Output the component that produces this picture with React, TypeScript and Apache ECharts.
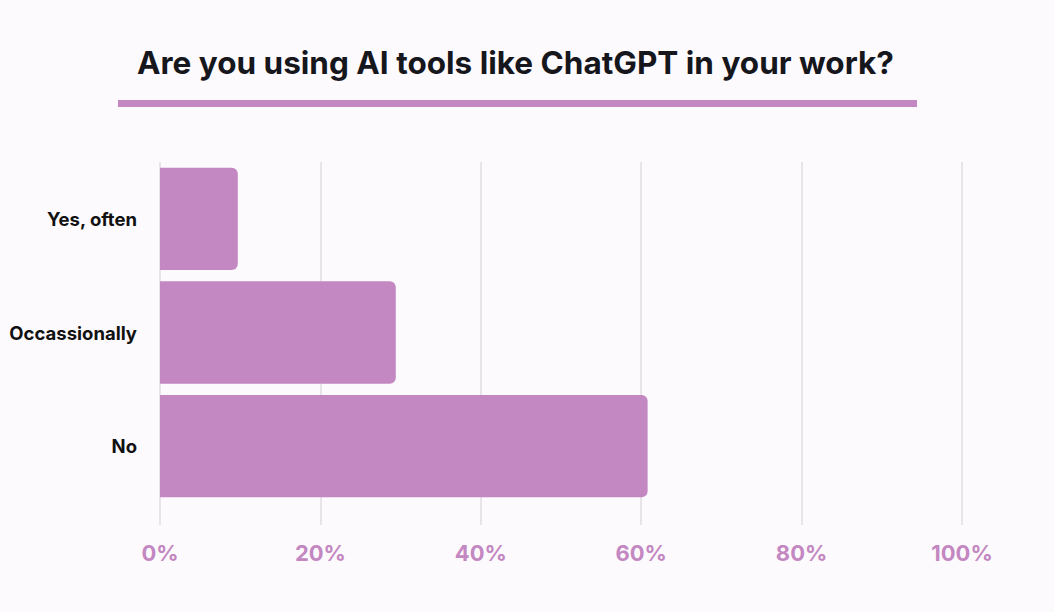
import React, { useEffect, useRef } from "react";
import * as echarts from "echarts";

const categories = ["Yes, often", "Occassionally", "No"];
const values = [9.7, 29.4, 60.8];
const tickValues = [0, 20, 40, 60, 80, 100];
const titleText = "Are you using AI tools like ChatGPT in your work?";

const PURPLE = "#c387c1";
const BG = "#fdfafd";

export default function App() {
  const ref = useRef<HTMLDivElement>(null);
  useEffect(() => {
    if (!ref.current) return;
    const chart = echarts.init(ref.current, undefined, { renderer: "svg" });
    chart.setOption({
      animation: false,
      backgroundColor: BG,
      title: {
        text: titleText,
        left: 132,
        top: 41,
        textStyle: {
          fontFamily: "Inter",
          fontWeight: 700,
          fontSize: 31.5,
          color: "#16161d",
        },
      },
      graphic: [
        {
          type: "rect",
          shape: { x: 118, y: 100, width: 799, height: 7 },
          style: { fill: PURPLE },
        },
      ],
      grid: { left: 160, right: 92, top: 162, bottom: 109, containLabel: false },
      xAxis: {
        type: "value",
        min: tickValues[0],
        max: tickValues[tickValues.length - 1],
        interval: 20,
        axisLine: { show: false },
        axisTick: {
          show: true,
          length: 22,
          lineStyle: { color: "#e2dde3", width: 1.5 },
        },
        splitLine: { show: true, lineStyle: { color: "#e2dde3", width: 1.5 } },
        axisLabel: {
          formatter: "{value}%",
          margin: 39,
          color: PURPLE,
          fontFamily: "Inter",
          fontWeight: 700,
          fontSize: 22,
        },
      },
      yAxis: {
        type: "category",
        data: categories,
        inverse: true,
        axisLine: { show: false },
        axisTick: { show: false },
        axisLabel: {
          margin: 23,
          color: "#111111",
          fontFamily: "Inter",
          fontWeight: 700,
          fontSize: 18.5,
        },
      },
      series: [
        {
          type: "bar",
          data: values,
          barCategoryGap: "10%",
          itemStyle: { color: PURPLE, borderRadius: [0, 6, 6, 0] },
        },
      ],
    });
    return () => chart.dispose();
  }, []);
  return (
    <div
      ref={ref}
      style={{ position: "fixed", left: 0, top: 0, width: 1054, height: 612 }}
    />
  );
}
